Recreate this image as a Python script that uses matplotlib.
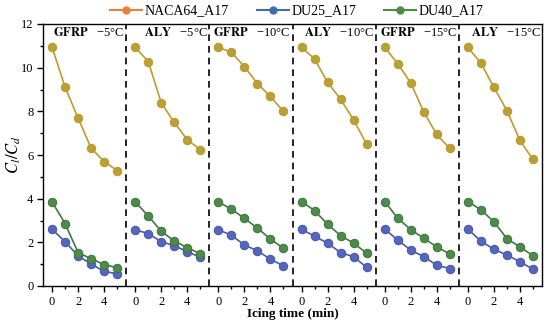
import numpy as np
import matplotlib
matplotlib.use("Agg")
import matplotlib.pyplot as plt
from matplotlib.lines import Line2D
from matplotlib.ticker import FixedLocator

plt.rcParams['font.family'] = ['Liberation Serif', 'DejaVu Serif']
plt.rcParams['mathtext.fontset'] = 'stix'

# icing time (min)
t = [0, 1, 2, 3, 4, 5]

panels = ['GFRP', 'ALY', 'GFRP', 'ALY', 'GFRP', 'ALY']
temps = ['\u22125\u00b0C', '\u22125\u00b0C', '\u221210\u00b0C', '\u221210\u00b0C', '\u221215\u00b0C', '\u221215\u00b0C']

# Cl/Cd per panel
naca64 = [
    [10.93, 9.11, 7.69, 6.32, 5.70, 5.29],
    [10.93, 10.28, 8.39, 7.49, 6.70, 6.25],
    [10.93, 10.70, 10.05, 9.27, 8.68, 8.00],
    [10.93, 10.40, 9.33, 8.55, 7.61, 6.50],
    [10.93, 10.18, 9.30, 7.97, 6.94, 6.30],
    [10.93, 10.21, 9.10, 8.03, 6.67, 5.80],
]
du25 = [
    [2.60, 2.03, 1.38, 1.01, 0.67, 0.56],
    [2.58, 2.40, 2.03, 1.85, 1.57, 1.32],
    [2.58, 2.32, 1.88, 1.61, 1.23, 0.92],
    [2.60, 2.28, 1.96, 1.53, 1.34, 0.86],
    [2.60, 2.11, 1.64, 1.35, 0.95, 0.80],
    [2.60, 2.06, 1.68, 1.42, 1.11, 0.77],
]
du40 = [
    [3.85, 2.86, 1.53, 1.25, 0.98, 0.84],
    [3.85, 3.21, 2.51, 2.06, 1.76, 1.48],
    [3.85, 3.52, 3.10, 2.65, 2.15, 1.73],
    [3.87, 3.45, 2.83, 2.31, 1.96, 1.51],
    [3.87, 3.10, 2.58, 2.19, 1.79, 1.47],
    [3.87, 3.49, 2.94, 2.17, 1.79, 1.39],
]

series = [
    ('NACA64_A17', naca64, '#c09a30', '#b8a035', '#e8823a'),
    ('DU25_A17', du25, '#4a58b0', '#5566bb', '#3d6fae'),
    ('DU40_A17', du40, '#3e7a3e', '#4e8a4a', '#4f8a45'),
]

span = 6.4
lo = -0.7

fig = plt.figure(figsize=(5.5, 3.28), dpi=100)
ax = fig.add_axes([43 / 550, 1 - 286 / 328, 499 / 550, 262 / 328])

for name, data, lc, fc, legc in series:
    for i, vals in enumerate(data):
        x = np.array(t) + i * span
        ax.plot(x, vals, '-o', color=lc, lw=1.2, ms=6, mfc=fc, mec=lc, mew=0.8)

for i in range(1, 6):
    ax.axvline(lo + i * span, color='black', ls=(0, (4, 3)), lw=1.2)

for i in range(6):
    ax.text(lo + (i + 1) * span - 0.12, 11.62,
            r'$\mathbf{' + panels[i] + '}$   ' + temps[i],
            ha='right', va='center', fontsize=9)

ax.set_xlim(lo, lo + 6 * span)
ax.set_ylim(0, 12)

major = [v + i * span for i in range(6) for v in (0, 2, 4)]
minor = [v + i * span for i in range(6) for v in (1, 3, 5)]
ax.xaxis.set_major_locator(FixedLocator(major))
ax.xaxis.set_minor_locator(FixedLocator(minor))
ax.set_xticklabels(['0', '2', '4'] * 6)
ax.set_yticks([0, 2, 4, 6, 8, 10, 12])
ax.yaxis.set_minor_locator(FixedLocator([1, 3, 5, 7, 9, 11]))
ax.tick_params(which='major', direction='out', length=4, width=1, labelsize=9, pad=3)
ax.tick_params(which='minor', direction='out', length=2.5, width=1)
for s in ax.spines.values():
    s.set_linewidth(1.0)

ax.set_xlabel('Icing time (min)', fontsize=9.5, fontweight='bold')
ax.xaxis.set_label_coords(0.5, -(314 - 286) / 262, transform=ax.transAxes)
ax.xaxis.label.set_va('center')
ax.set_ylabel(r'$C_l/C_d$', fontsize=12)
ax.yaxis.set_label_coords(-(43 - 14) / 499, 0.5)
ax.yaxis.label.set_va('center')

handles = [Line2D([], [], color=legc, marker='o', ms=5, mfc=legc, lw=1.5) for _, _, _, _, legc in series]
fig.legend(handles, [s[0] for s in series], loc='center', bbox_to_anchor=(297 / 550, 1 - 11 / 328),
           ncol=3, frameon=False, fontsize=10, handlelength=2.3, columnspacing=2.0,
           handletextpad=0.2)

fig.savefig('out.png', dpi=100)
